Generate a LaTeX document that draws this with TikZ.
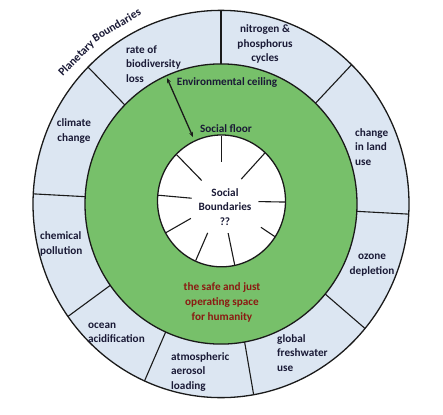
\documentclass[tikz,border=0pt]{standalone}
\usepackage{fontspec}
\setmainfont{Carlito}
\usetikzlibrary{arrows.meta}
\definecolor{ringblue}{HTML}{DCE6F2}
\definecolor{safegreen}{HTML}{77C06A}
\definecolor{labelink}{HTML}{1A1A36}
\definecolor{safered}{HTML}{8B1A12}
\definecolor{edge}{HTML}{1A1A1A}
\tikzset{
  lbl/.style={font=\fontsize{11.2}{14.4}\selectfont\bfseries, text=labelink, inner sep=0pt},
  lbll/.style={lbl, align=left, anchor=west},
  lblc/.style={lbl, align=center},
  titleword/.style={font=\fontsize{11.5}{12}\selectfont\bfseries, text=labelink, inner sep=0pt, anchor=base},
  divider/.style={draw=edge, line width=1.1pt},
  spoke/.style={draw=edge, line width=1.1pt},
  ring/.style={draw=edge, line width=1.3pt}
}
\begin{document}
\begin{tikzpicture}[x=1pt,y=1.03pt]
\useasboundingbox (-221,198.06) rectangle (222,-203.88);
\fill[white] (-221,198.06) rectangle (222,-203.88);
% outer ring
\path[ring, fill=ringblue] (0,0) circle[radius=188];
\path[ring, fill=safegreen] (0,0) circle[radius=136];
% dividers of the planetary ring
\foreach \a in {90,46,-3,-40,-80,-114,215.5,177,135}
  \draw[divider] (\a:136) -- (\a:188);
% inner social circle
\path[ring, fill=white] (0.5,3) circle[radius=64];
\begin{scope}[shift={(0.5,3)}]
\foreach \a/\r in {90/38,47/29,-1/37,-33/47,-78/32,-114/34,209/35,175/30,135/28}
  \draw[spoke] (\a:63.5) -- (\a:\r);
\end{scope}
% title along the rim
\node[titleword, rotate=45.5] (tplan) at (135.6:199) {Planetary};
\node[titleword, rotate=31] (tbound) at (121:199) {Boundaries};
% ring labels
\node[lbll] (bio) at (-95,135.9) {rate of\\biodiversity\\loss};
\node[lblc] (nit) at (44,155.3) {nitrogen \&\\phosphorus\\cycles};
\node[lbll] (land) at (134,55.3) {change\\in land\\use};
\node[lblc] (ozone) at (151,-59.2) {ozone\\depletion};
\node[lbll] (fresh) at (56,-144.7) {global\\freshwater\\use};
\node[lbll] (aero) at (-50,-163.1) {atmospheric\\aerosol\\loading};
\node[lbll] (ocean) at (-133,-125.2) {ocean\\acidification};
\node[lbll] (chem) at (-181,-38.8) {chemical\\pollution};
\node[lblc] (clim) at (-147,70.9) {climate\\change};
% inner labels
\node[lblc] (ceil) at (6,118.4) {Environmental ceiling};
\node[lblc] (floor) at (5,72.8) {Social floor};
\node[lblc] (soc) at (4,-2.9) {Social\\Boundaries\\??};
\node[lblc, text=safered, font=\fontsize{11.2}{15}\selectfont\bfseries] (safe) at (1,-95.1) {the safe and just\\operating space\\for humanity};
% double arrow
\coordinate (arrtop) at (-54,122.3);
\coordinate (arrbot) at (-28,65);
\draw[line width=1.3pt, edge, {Stealth[length=5pt,width=4pt]}-{Stealth[length=5pt,width=4pt]}] (arrtop) -- (arrbot);
\end{tikzpicture}
\end{document}
